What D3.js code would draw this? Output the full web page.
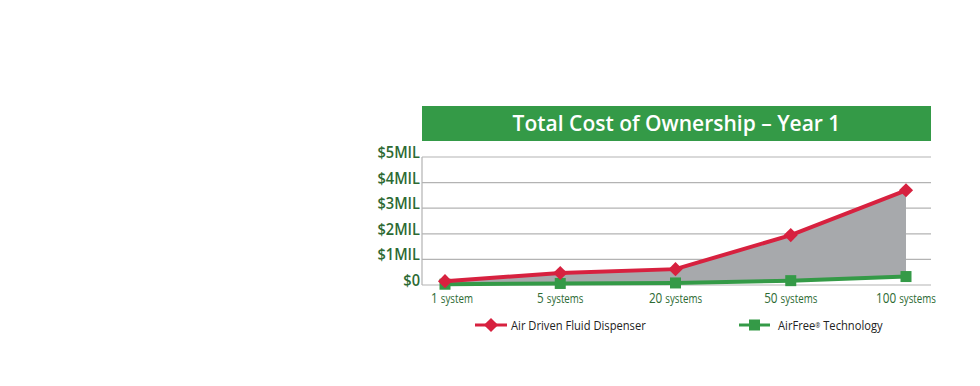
<!DOCTYPE html>
<html>
<head>
<meta charset="utf-8">
<script src="https://cdn.jsdelivr.net/npm/d3@7"></script>
<style>
  body { margin: 0; background: #fff; }
  svg text { font-family: "Open Sans", "Noto Sans", sans-serif; }
</style>
</head>
<body>
<div id="chart"></div>
<script>
const categories = ["1", "5", "20", "50", "100"];
const unitLabels = ["system", "systems", "systems", "systems", "systems"];
const airDriven = [0.15, 0.47, 0.62, 1.95, 3.7];
const airFree = [0.03, 0.06, 0.08, 0.17, 0.33];
const yTicks = [0, 1, 2, 3, 4, 5];
const yTickLabels = ["$0", "$1MIL", "$2MIL", "$3MIL", "$4MIL", "$5MIL"];
const seriesNames = ["Air Driven Fluid Dispenser", "AirFree\u00AE Technology"];

const RED = "#d7213f";
const GREEN = "#349a47";
const TEXT_GREEN = "#2d6a33";

const MARGIN = { TOP: 157, LEFT: 422, RIGHT: 49 };
const WIDTH = 980 - MARGIN.LEFT - MARGIN.RIGHT;
const HEIGHT = 285 - MARGIN.TOP;

const svg = d3.select("#chart")
  .append("svg")
  .attr("width", 980)
  .attr("height", 386);

// title banner
svg.append("rect")
  .attr("x", MARGIN.LEFT).attr("y", 106)
  .attr("width", WIDTH).attr("height", 35)
  .attr("fill", GREEN);
svg.append("text")
  .attr("x", MARGIN.LEFT + WIDTH / 2).attr("y", 131)
  .attr("text-anchor", "middle")
  .attr("fill", "#fff")
  .attr("font-size", 21)
  .attr("font-weight", 600)
  .text("Total Cost of Ownership \u2013 Year 1");

const g = svg.append("g").attr("transform", `translate(${MARGIN.LEFT}, ${MARGIN.TOP})`);

const x = d3.scalePoint().domain(categories).range([23, 484]);
const y = d3.scaleLinear().domain([0, 5]).range([HEIGHT, 0]);

// grid lines
g.append("g")
  .selectAll("line")
  .data(yTicks)
  .join("line")
  .attr("x1", 0).attr("x2", WIDTH)
  .attr("y1", d => y(d)).attr("y2", d => y(d))
  .attr("stroke", "#b3b3b3")
  .attr("stroke-width", 1.2);

g.append("line")
  .attr("x1", 0).attr("x2", 0)
  .attr("y1", 0).attr("y2", HEIGHT)
  .attr("stroke", "#b3b3b3")
  .attr("stroke-width", 1.2);

// y axis labels (squeezed horizontally, the original uses a condensed face)
g.append("g")
  .selectAll("text")
  .data(yTicks)
  .join("text")
  .attr("transform", d => `translate(-2, ${y(d) + 1}) scale(0.86, 1)`)
  .attr("text-anchor", "end")
  .attr("fill", TEXT_GREEN)
  .attr("font-size", 17)
  .attr("font-weight", 600)
  .text((d, i) => yTickLabels[i]);

// x axis labels
const xl = g.append("g")
  .selectAll("text")
  .data(categories)
  .join("text")
  .attr("transform", (d, i) => `translate(${x(d) + (i === 0 ? 7 : 0)}, ${HEIGHT + 18}) scale(0.78, 1)`)
  .attr("text-anchor", "middle")
  .attr("fill", TEXT_GREEN);
xl.append("tspan").attr("font-size", 15).text(d => d + " ");
xl.append("tspan").attr("font-size", 12.5).text((d, i) => unitLabels[i]);

// shaded gap between series
const rows = categories.map((c, i) => ({ c, hi: airDriven[i], lo: airFree[i] }));
g.append("path")
  .datum(rows)
  .attr("fill", "#a7a9ac")
  .attr("d", d3.area()
    .x(d => x(d.c))
    .y0(d => y(d.lo))
    .y1(d => y(d.hi)));

const line = d3.line().x((d, i) => x(categories[i])).y(d => y(d));

// green series
g.append("path")
  .datum(airFree)
  .attr("fill", "none")
  .attr("stroke", GREEN)
  .attr("stroke-width", 4)
  .attr("d", line);
g.append("g")
  .selectAll("rect")
  .data(airFree)
  .join("rect")
  .attr("x", (d, i) => x(categories[i]) - 5.5)
  .attr("y", d => y(d) - 5.5)
  .attr("width", 11).attr("height", 11)
  .attr("fill", GREEN);

// red series
g.append("path")
  .datum(airDriven)
  .attr("fill", "none")
  .attr("stroke", RED)
  .attr("stroke-width", 4)
  .attr("d", line);
g.append("g")
  .selectAll("path")
  .data(airDriven)
  .join("path")
  .attr("transform", (d, i) => `translate(${x(categories[i])}, ${y(d)}) rotate(45)`)
  .attr("d", "M-5,-5H5V5H-5Z")
  .attr("fill", RED);

// legend
const legend = svg.append("g").attr("transform", "translate(0, 325)");
legend.append("line").attr("x1", 475).attr("x2", 507).attr("stroke", RED).attr("stroke-width", 3);
legend.append("path").attr("transform", "translate(491, 0) rotate(45)").attr("d", "M-5,-5H5V5H-5Z").attr("fill", RED);
legend.append("text")
  .attr("transform", "translate(511, 4.5) scale(0.86, 1)")
  .attr("font-size", 13).attr("fill", "#222").text(seriesNames[0]);

legend.append("line").attr("x1", 739).attr("x2", 770).attr("stroke", GREEN).attr("stroke-width", 3);
legend.append("rect").attr("x", 749).attr("y", -5.5).attr("width", 11).attr("height", 11).attr("fill", GREEN);
const t2 = legend.append("text")
  .attr("transform", "translate(778, 4.5) scale(0.86, 1)")
  .attr("font-size", 13).attr("fill", "#222");
t2.append("tspan").text("AirFree");
t2.append("tspan").attr("font-size", 7).attr("dy", -2).text("\u00AE");
t2.append("tspan").attr("dy", 2).text(" Technology");
</script>
</body>
</html>
